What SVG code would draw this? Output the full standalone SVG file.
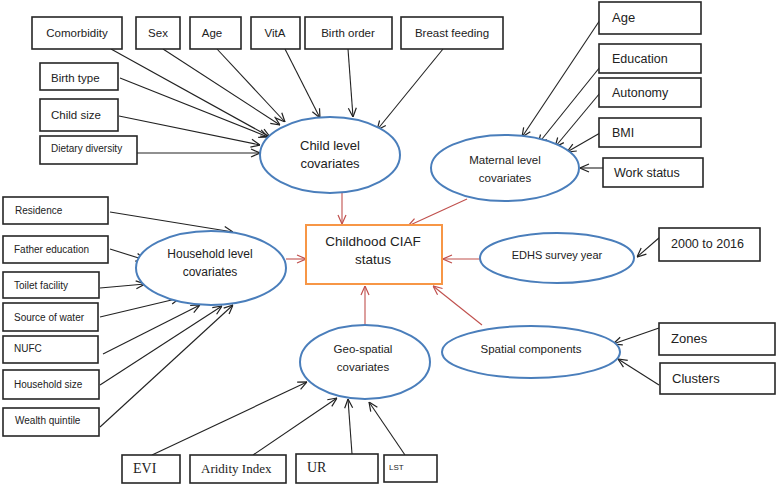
<svg xmlns="http://www.w3.org/2000/svg" width="778" height="486" viewBox="0 0 778 486">
<defs>
<style>
.box{fill:#fff;stroke:#262626;stroke-width:1.6}
.ell{fill:#fff;stroke:#4A7EBB;stroke-width:2}
.t{font-family:"Liberation Sans",Arial,sans-serif;fill:#222}
.s{font-family:"Liberation Serif","Times New Roman",serif;fill:#222}
.c{text-anchor:middle}
.bl{stroke:#222;stroke-width:1.1;fill:none;marker-end:url(#ah)}
.rd{stroke:#C0504D;stroke-width:1.1;fill:none;marker-end:url(#ahr)}
</style>
<marker id="ah" viewBox="0 0 10 10" refX="10" refY="5" markerWidth="10" markerHeight="10" orient="auto" markerUnits="userSpaceOnUse"><path d="M1,1 L10,5 L1,9" fill="none" stroke="#222" stroke-width="1.2"/></marker>
<marker id="ahr" viewBox="0 0 10 10" refX="10" refY="5" markerWidth="10" markerHeight="10" orient="auto" markerUnits="userSpaceOnUse"><path d="M1,1 L10,5 L1,9" fill="none" stroke="#C0504D" stroke-width="1.2"/></marker>
</defs>
<rect width="778" height="486" fill="#fff"/>
<g id="connectors">
<line class="bl" x1="111" y1="49" x2="270" y2="137"/>
<line class="bl" x1="163" y1="49" x2="280" y2="125"/>
<line class="bl" x1="217" y1="49" x2="285" y2="122"/>
<line class="bl" x1="285" y1="49" x2="320" y2="118"/>
<line class="bl" x1="348" y1="49" x2="353" y2="117"/>
<line class="bl" x1="443" y1="49" x2="377" y2="130"/>
<line class="bl" x1="120" y1="78" x2="268" y2="137"/>
<line class="bl" x1="119" y1="116" x2="260" y2="145"/>
<line class="bl" x1="137" y1="153" x2="260" y2="153"/>
<line class="bl" x1="600" y1="20" x2="522" y2="137"/>
<line class="bl" x1="600" y1="67" x2="538" y2="144"/>
<line class="bl" x1="600" y1="93" x2="555" y2="147"/>
<line class="bl" x1="600" y1="133" x2="567" y2="152"/>
<line class="bl" x1="603" y1="168" x2="580" y2="168"/>
<line class="bl" x1="110" y1="212" x2="233" y2="232"/>
<line class="bl" x1="110" y1="249" x2="145" y2="260"/>
<line class="bl" x1="100" y1="288" x2="145" y2="284"/>
<line class="bl" x1="100" y1="317" x2="180" y2="298"/>
<line class="bl" x1="103" y1="354" x2="200" y2="305"/>
<line class="bl" x1="100" y1="385" x2="222" y2="306"/>
<line class="bl" x1="100" y1="427" x2="233" y2="305"/>
<line class="bl" x1="152" y1="455" x2="307" y2="382"/>
<line class="bl" x1="253" y1="455" x2="337" y2="398"/>
<line class="bl" x1="352" y1="454" x2="348" y2="399"/>
<line class="bl" x1="405" y1="455" x2="369" y2="402"/>
<line class="bl" x1="660" y1="237" x2="637" y2="257"/>
<line class="bl" x1="659" y1="328" x2="613" y2="344"/>
<line class="bl" x1="659" y1="385" x2="618" y2="359"/>
<line class="rd" x1="342" y1="193" x2="342" y2="224"/>
<line class="rd" x1="467" y1="199" x2="408" y2="226"/>
<line class="rd" x1="286" y1="259" x2="306" y2="259"/>
<line class="rd" x1="480" y1="259" x2="443" y2="259"/>
<line class="rd" x1="365" y1="325" x2="365" y2="286"/>
<line class="rd" x1="482" y1="325" x2="433" y2="286"/>
</g>
<g id="n-comorbidity"><rect class="box" x="32" y="17" width="90" height="32"/><text class="t c" x="77" y="37" font-size="11.5">Comorbidity</text></g>
<g id="n-sex"><rect class="box" x="136" y="17" width="44" height="32"/><text class="t c" x="158" y="37" font-size="11.5">Sex</text></g>
<g id="n-age-child"><rect class="box" x="190" y="17" width="51" height="32"/><text class="t c" x="212" y="37" font-size="11.5">Age</text></g>
<g id="n-vita"><rect class="box" x="251" y="17" width="49" height="32"/><text class="t c" x="275" y="37" font-size="11.5">VitA</text></g>
<g id="n-birthorder"><rect class="box" x="305" y="17" width="87" height="32"/><text class="t c" x="348" y="37" font-size="11.5">Birth order</text></g>
<g id="n-breast"><rect class="box" x="401" y="17" width="102" height="32"/><text class="t c" x="452" y="37" font-size="11.5">Breast feeding</text></g>
<g id="n-birthtype"><rect class="box" x="40" y="63" width="78" height="27"/><text class="t" x="51" y="82" font-size="11.5">Birth type</text></g>
<g id="n-childsize"><rect class="box" x="40" y="99" width="78" height="32"/><text class="t" x="51" y="119" font-size="11.5">Child size</text></g>
<g id="n-dietary"><rect class="box" x="40" y="136" width="97" height="28"/><text class="t" x="51" y="152" font-size="10">Dietary diversity</text></g>
<g id="n-child"><ellipse class="ell" cx="330" cy="155" rx="70" ry="38"/><text class="t c" x="330" y="150" font-size="13">Child level</text><text class="t c" x="330" y="168" font-size="13">covariates</text></g>
<g id="n-m-age"><rect class="box" x="599" y="2" width="102" height="32"/><text class="t" x="612" y="22" font-size="13">Age</text></g>
<g id="n-m-edu"><rect class="box" x="599" y="44" width="102" height="29"/><text class="t" x="612" y="63" font-size="12.5">Education</text></g>
<g id="n-m-aut"><rect class="box" x="599" y="78" width="102" height="29"/><text class="t" x="612" y="97" font-size="12.5">Autonomy</text></g>
<g id="n-m-bmi"><rect class="box" x="599" y="118" width="102" height="29"/><text class="t" x="612" y="137" font-size="12.5">BMI</text></g>
<g id="n-m-work"><rect class="box" x="603" y="158" width="100" height="29"/><text class="t" x="614" y="177" font-size="12.5">Work status</text></g>
<g id="n-maternal"><ellipse class="ell" cx="505" cy="168" rx="74" ry="33"/><text class="t c" x="505" y="164" font-size="11.5">Maternal level</text><text class="t c" x="505" y="182" font-size="11.5">covariates</text></g>
<g id="n-residence"><rect class="box" x="3" y="197" width="105" height="27"/><text class="t" x="15" y="214" font-size="10">Residence</text></g>
<g id="n-father"><rect class="box" x="3" y="236" width="105" height="27"/><text class="t" x="14" y="253" font-size="10">Father education</text></g>
<g id="n-toilet"><rect class="box" x="3" y="272" width="96" height="26"/><text class="t" x="14" y="289" font-size="10">Toilet facility</text></g>
<g id="n-water"><rect class="box" x="3" y="303" width="95" height="28"/><text class="t" x="14" y="321" font-size="10">Source of water</text></g>
<g id="n-nufc"><rect class="box" x="3" y="336" width="95" height="27"/><text class="t" x="14" y="352" font-size="10">NUFC</text></g>
<g id="n-hhsize"><rect class="box" x="3" y="370" width="96" height="29"/><text class="t" x="14" y="388" font-size="10">Household size</text></g>
<g id="n-wealth"><rect class="box" x="3" y="408" width="96" height="28"/><text class="t" x="15" y="424" font-size="10">Wealth quintile</text></g>
<g id="n-household"><ellipse class="ell" cx="211" cy="268" rx="75" ry="37"/><text class="t c" x="210" y="258" font-size="12">Household level</text><text class="t c" x="210" y="276" font-size="12">covariates</text></g>
<g id="n-ciaf"><rect x="306" y="225" width="136" height="59" fill="#fff" stroke="#F79646" stroke-width="2"/><text class="t c" x="373" y="246" font-size="13.5">Childhood CIAF</text><text class="t c" x="373" y="264" font-size="13.5">status</text></g>
<g id="n-edhs"><ellipse class="ell" cx="557" cy="258" rx="77" ry="25"/><text class="t c" x="557" y="259" font-size="11">EDHS survey year</text></g>
<g id="n-years"><rect class="box" x="659" y="228" width="101" height="33"/><text class="t" x="671" y="248" font-size="12.5">2000 to 2016</text></g>
<g id="n-spatial"><ellipse class="ell" cx="531" cy="352" rx="89" ry="26"/><text class="t c" x="531" y="353" font-size="11.5">Spatial components</text></g>
<g id="n-zones"><rect class="box" x="659" y="323" width="116" height="32"/><text class="t" x="671" y="343" font-size="13">Zones</text></g>
<g id="n-clusters"><rect class="box" x="660" y="363" width="115" height="31"/><text class="t" x="672" y="383" font-size="13">Clusters</text></g>
<g id="n-geo"><ellipse class="ell" cx="365" cy="362" rx="65" ry="37"/><text class="t c" x="363" y="353" font-size="11.5">Geo-spatial</text><text class="t c" x="363" y="371" font-size="11.5">covariates</text></g>
<g id="n-evi"><rect class="box" x="122" y="455" width="58" height="28"/><text class="s" x="133" y="473" font-size="14">EVI</text></g>
<g id="n-aridity"><rect class="box" x="190" y="455" width="96" height="28"/><text class="s" x="201" y="473" font-size="13">Aridity Index</text></g>
<g id="n-ur"><rect class="box" x="296" y="454" width="82" height="29"/><text class="s" x="307" y="472" font-size="14">UR</text></g>
<g id="n-lst"><rect class="box" x="384" y="455" width="53" height="27"/><text class="t" x="389" y="470" font-size="8">LST</text></g>
</svg>
